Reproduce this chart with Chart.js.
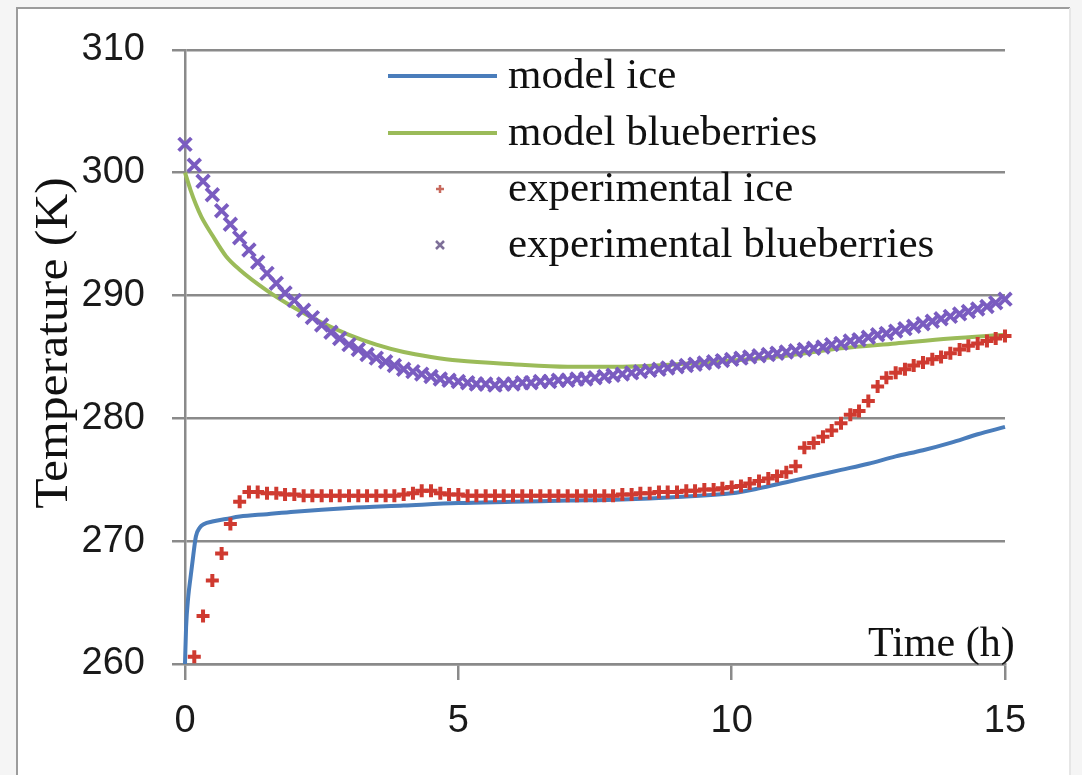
<!DOCTYPE html>
<html>
<head>
<meta charset="utf-8">
<script src="https://cdn.jsdelivr.net/npm/chart.js@4.4.1/dist/chart.umd.min.js"></script>
<style>
  html, body { margin: 0; padding: 0; background: #f6f6f6; }
  canvas { display: block; }
</style>
</head>
<body>
<canvas id="c" width="1082" height="775"></canvas>
<script>
// ---------- DATA ----------
const seriesNames = ["model ice", "model blueberries", "experimental ice", "experimental blueberries"];
const xTickValues = [0, 5, 10, 15];
const yTickValues = [260, 270, 280, 290, 300, 310];

const modelIceTime = [0, 0.02, 0.06, 0.1, 0.15, 0.2, 0.27, 0.35, 0.5, 0.75, 1, 1.5, 2, 3, 4, 5, 6, 7, 8, 9, 10, 10.5, 11, 11.5, 12, 12.5, 13, 13.5, 14, 14.5, 15];
const modelIce     = [260, 263, 265.5, 267, 268.8, 270.4, 271.1, 271.4, 271.6, 271.8, 272.0, 272.2, 272.4, 272.7, 272.9, 273.1, 273.2, 273.3, 273.4, 273.6, 273.9, 274.3, 274.8, 275.3, 275.8, 276.3, 276.9, 277.4, 278.0, 278.7, 279.3];

const modelBerryTime = [0, 0.1, 0.2, 0.3, 0.5, 0.75, 1, 1.5, 2, 2.5, 3, 3.5, 4, 4.5, 5, 6, 7, 8, 9, 10, 11, 12, 13, 14, 15];
const modelBerry     = [300, 298.6, 297.4, 296.4, 294.9, 293.2, 292.1, 290.4, 289.0, 287.8, 286.8, 286.0, 285.4, 285.0, 284.7, 284.4, 284.2, 284.2, 284.4, 284.7, 285.1, 285.7, 286.1, 286.5, 286.8];

const expTime = [0, 0.17, 0.33, 0.5, 0.67, 0.83, 1, 1.17, 1.33, 1.5, 1.67, 1.83, 2, 2.17, 2.33, 2.5, 2.67, 2.83, 3, 3.17, 3.33, 3.5, 3.67, 3.83, 4, 4.17, 4.33, 4.5, 4.67, 4.83, 5, 5.17, 5.33, 5.5, 5.67, 5.83, 6, 6.17, 6.33, 6.5, 6.67, 6.83, 7, 7.17, 7.33, 7.5, 7.67, 7.83, 8, 8.17, 8.33, 8.5, 8.67, 8.83, 9, 9.17, 9.33, 9.5, 9.67, 9.83, 10, 10.17, 10.33, 10.5, 10.67, 10.83, 11, 11.17, 11.33, 11.5, 11.67, 11.83, 12, 12.17, 12.33, 12.5, 12.67, 12.83, 13, 13.17, 13.33, 13.5, 13.67, 13.83, 14, 14.17, 14.33, 14.5, 14.67, 14.83, 15];

const expIce = [null, 260.6, 263.9, 266.8, 269.0, 271.4, 273.2, 274.0, 274.0, 273.9, 273.9, 273.8, 273.8, 273.7, 273.7, 273.7, 273.7, 273.7, 273.7, 273.7, 273.7, 273.7, 273.7, 273.7, 273.8, 273.9, 274.1, 274.1, 273.9, 273.8, 273.8, 273.7, 273.7, 273.7, 273.7, 273.7, 273.7, 273.7, 273.7, 273.7, 273.7, 273.7, 273.7, 273.7, 273.7, 273.7, 273.7, 273.7, 273.8, 273.8, 273.9, 273.9, 274.0, 274.0, 274.0, 274.1, 274.1, 274.2, 274.2, 274.3, 274.4, 274.5, 274.7, 274.9, 275.1, 275.3, 275.6, 276.1, 277.6, 278.0, 278.5, 279.0, 279.6, 280.3, 280.6, 281.4, 282.6, 283.3, 283.7, 284.0, 284.3, 284.55, 284.8, 285.0, 285.3, 285.6, 285.9, 286.1, 286.3, 286.5, 286.7];

const expBerry = [302.3, 300.6, 299.3, 298.2, 296.9, 295.8, 294.7, 293.7, 292.7, 291.8, 291.0, 290.2, 289.6, 288.8, 288.2, 287.6, 287.0, 286.5, 286.0, 285.6, 285.2, 284.9, 284.6, 284.3, 284.0, 283.8, 283.6, 283.4, 283.2, 283.1, 283.0, 282.9, 282.8, 282.8, 282.7, 282.8, 282.8, 282.9, 282.9, 283.0, 283.0, 283.1, 283.1, 283.2, 283.2, 283.3, 283.4, 283.5, 283.6, 283.7, 283.8, 283.9, 284.0, 284.1, 284.2, 284.3, 284.4, 284.5, 284.6, 284.7, 284.8, 284.9, 285.0, 285.1, 285.2, 285.3, 285.4, 285.5, 285.6, 285.7, 285.8, 286.0, 286.1, 286.3, 286.4, 286.6, 286.8, 286.9, 287.1, 287.3, 287.5, 287.7, 287.9, 288.1, 288.3, 288.5, 288.7, 288.9, 289.1, 289.4, 289.7];

// ---------- STYLE ----------
const C_BLUE = '#4a7dbb';
const C_GREEN = '#9bbb59';
const C_RED = '#cf3a30';
const C_PURPLE = '#7a5cc0';
const GRID = '#8a8a8a';

const pts = (xs, ys) => xs.map((x, i) => ({ x: x, y: ys[i] }));

const framePlugin = {
  id: 'frame',
  beforeDraw(chart) {
    const ctx = chart.ctx;
    ctx.save();
    ctx.fillStyle = '#f5f5f5';
    ctx.fillRect(0, 0, chart.width, chart.height);
    ctx.fillStyle = '#ffffff';
    ctx.fillRect(18, 9, 1052, 766);
    ctx.strokeStyle = '#9c9c9c';
    ctx.lineWidth = 2;
    ctx.beginPath();
    ctx.moveTo(17, 775); ctx.lineTo(17, 8); ctx.lineTo(1070, 8);
    ctx.stroke();
    ctx.strokeStyle = '#e6e6e6';
    ctx.beginPath();
    ctx.moveTo(1070, 8); ctx.lineTo(1070, 775);
    ctx.stroke();
    ctx.restore();
  },
  afterDraw(chart) {
    const ctx = chart.ctx;
    ctx.save();
    // y title
    ctx.fillStyle = '#111';
    ctx.font = '46px "Liberation Serif", "DejaVu Serif", serif';
    ctx.textAlign = 'center';
    ctx.textBaseline = 'middle';
    ctx.translate(55, 343);
    ctx.rotate(-Math.PI / 2);
    ctx.scale(1.08, 1);
    ctx.fillText('Temperature (K)', 0, 0);
    ctx.restore();

    ctx.save();
    ctx.fillStyle = '#111';
    ctx.font = '42px "Liberation Serif", "DejaVu Serif", serif';
    ctx.textAlign = 'left';
    ctx.textBaseline = 'alphabetic';
    ctx.fillText('Time (h)', 868, 656);

    // legend
    const rows = [76, 133, 189, 245];
    ctx.font = '43px "Liberation Serif", "DejaVu Serif", serif';
    ctx.lineCap = 'butt';
    ctx.lineWidth = 4;
    ctx.strokeStyle = C_BLUE;
    ctx.beginPath(); ctx.moveTo(388, rows[0]); ctx.lineTo(497, rows[0]); ctx.stroke();
    ctx.strokeStyle = C_GREEN;
    ctx.beginPath(); ctx.moveTo(388, rows[1]); ctx.lineTo(497, rows[1]); ctx.stroke();
    ctx.lineWidth = 2.5;
    ctx.strokeStyle = '#c86a5e';
    ctx.beginPath();
    ctx.moveTo(436, rows[2]); ctx.lineTo(444, rows[2]);
    ctx.moveTo(440, rows[2] - 4); ctx.lineTo(440, rows[2] + 4);
    ctx.stroke();
    ctx.strokeStyle = '#7d6f98';
    ctx.beginPath();
    ctx.moveTo(436, rows[3] - 4); ctx.lineTo(444, rows[3] + 4);
    ctx.moveTo(444, rows[3] - 4); ctx.lineTo(436, rows[3] + 4);
    ctx.stroke();
    ctx.fillStyle = '#111';
    for (let i = 0; i < 4; i++) {
      ctx.fillText(seriesNames[i], 508, rows[i] + 12);
    }
    ctx.restore();
  }
};

new Chart(document.getElementById('c'), {
  type: 'scatter',
  data: {
    datasets: [
      {
        label: seriesNames[3],
        data: pts(expTime, expBerry),
        showLine: false,
        pointStyle: 'crossRot',
        pointRadius: 9,
        pointBorderWidth: 3.8,
        borderColor: C_PURPLE,
        backgroundColor: C_PURPLE,
        clip: false,
        order: 0
      },
      {
        label: seriesNames[2],
        data: pts(expTime, expIce),
        showLine: false,
        pointStyle: 'cross',
        pointRadius: 6.5,
        pointBorderWidth: 4,
        borderColor: C_RED,
        backgroundColor: C_RED,
        clip: false,
        order: 1
      },
      {
        label: seriesNames[0],
        data: pts(modelIceTime, modelIce),
        showLine: true,
        pointRadius: 0,
        borderColor: C_BLUE,
        borderWidth: 4,
        cubicInterpolationMode: 'monotone',
        clip: false,
        order: 2
      },
      {
        label: seriesNames[1],
        data: pts(modelBerryTime, modelBerry),
        showLine: true,
        pointRadius: 0,
        borderColor: C_GREEN,
        borderWidth: 4,
        cubicInterpolationMode: 'monotone',
        clip: false,
        order: 3
      }
    ]
  },
  options: {
    responsive: false,
    devicePixelRatio: 1,
    animation: false,
    events: [],
    layout: { padding: { left: 0, top: 38, right: 77, bottom: 0 } },
    plugins: {
      legend: { display: false },
      tooltip: { enabled: false },
      title: { display: false }
    },
    scales: {
      x: {
        type: 'linear',
        min: 0,
        max: 15,
        afterFit: (s) => { s.height = 111; },
        afterBuildTicks: (s) => { s.ticks = xTickValues.map(v => ({ value: v })); },
        ticks: {
          color: '#1a1a1a',
          padding: 19,
          maxRotation: 0,
          font: { family: '"Liberation Sans", Arial, sans-serif', size: 38 }
        },
        grid: {
          drawOnChartArea: false,
          drawTicks: true,
          tickLength: 16,
          color: GRID,
          lineWidth: 2.5
        },
        border: { display: true, color: GRID, width: 2.5 }
      },
      y: {
        type: 'linear',
        min: 260,
        max: 310,
        afterFit: (s) => { s.width = 185; },
        afterBuildTicks: (s) => { s.ticks = yTickValues.map(v => ({ value: v })); },
        ticks: {
          color: '#1a1a1a',
          padding: 27,
          font: { family: '"Liberation Sans", Arial, sans-serif', size: 38 }
        },
        grid: {
          drawTicks: true,
          tickLength: 13,
          color: GRID,
          lineWidth: 2.5
        },
        border: { display: true, color: GRID, width: 2.5 }
      }
    }
  },
  plugins: [framePlugin]
});
</script>
</body>
</html>
